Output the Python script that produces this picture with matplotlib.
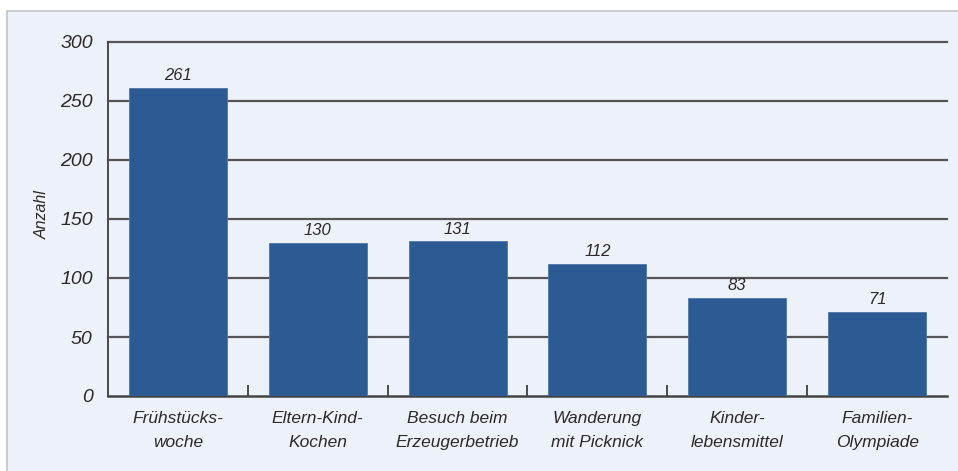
import matplotlib
matplotlib.use("Agg")
import matplotlib.pyplot as plt
from matplotlib.patches import Rectangle

categories = ["Frühstücks-\nwoche", "Eltern-Kind-\nKochen", "Besuch beim\nErzeugerbetrieb",
              "Wanderung\nmit Picknick", "Kinder-\nlebensmittel", "Familien-\nOlympiade"]
values = [261, 130, 131, 112, 83, 71]
yticks = [0, 50, 100, 150, 200, 250, 300]
ylabel = "Anzahl"

plt.rcParams['font.family'] = ['Liberation Sans', 'DejaVu Sans']
W, H = 958, 471
fig = plt.figure(figsize=(W / 100, H / 100), dpi=100)
fig.patch.set_facecolor("white")

# background panel
bg = fig.add_axes([0, 0, 1, 1], zorder=-10)
bg.set_xlim(0, W)
bg.set_ylim(H, 0)
bg.axis("off")
bg.add_patch(Rectangle((7, 11), W + 10, H, facecolor="#EDF1F9", edgecolor="#C4C4C4", linewidth=1.2))

ax = fig.add_axes([108 / W, (H - 396) / H, (947 - 108) / W, (396 - 42) / H], zorder=1)
ax.set_facecolor("none")

x = list(range(len(categories)))
bars = ax.bar(x, values, width=0.70, color="#2C5A92", edgecolor="#4F77A8", linewidth=0.6, zorder=3)

ax.set_xlim(-0.5, len(categories) - 0.5)
ax.set_ylim(0, 300)
ax.set_yticks(yticks)
ax.set_yticklabels([str(t) for t in yticks], fontsize=14, style="italic", color="#2a2a2a")
for t in yticks[1:]:
    ax.axhline(t, color="#555555", linewidth=1.6, zorder=1, clip_on=False)

for s in ["top", "right"]:
    ax.spines[s].set_visible(False)
ax.spines["left"].set_color("#4a4a4a")
ax.spines["left"].set_linewidth(1.4)
ax.spines["bottom"].set_color("#444444")
ax.spines["bottom"].set_linewidth(1.8)
ax.tick_params(axis="y", length=0, pad=11)

# category separators (minor ticks pointing up)
ax.set_xticks(x)
ax.set_xticklabels(categories, fontsize=12.5, style="italic", color="#2a2a2a", linespacing=1.7)
ax.tick_params(axis="x", length=0, pad=11)
ax.set_xticks([i + 0.5 for i in x[:-1]], minor=True)
ax.tick_params(axis="x", which="minor", direction="in", length=8, width=1.4, color="#4a4a4a")

for xi, v in zip(x, values):
    ax.text(xi, v + 4, str(v), ha="center", va="bottom", fontsize=12, style="italic", color="#2a2a2a")

fig.text(42 / W, 1 - 215 / H, ylabel, rotation=90, ha="center", va="center",
         fontsize=11.5, style="italic", color="#2a2a2a")

fig.savefig("out.png", dpi=100)
